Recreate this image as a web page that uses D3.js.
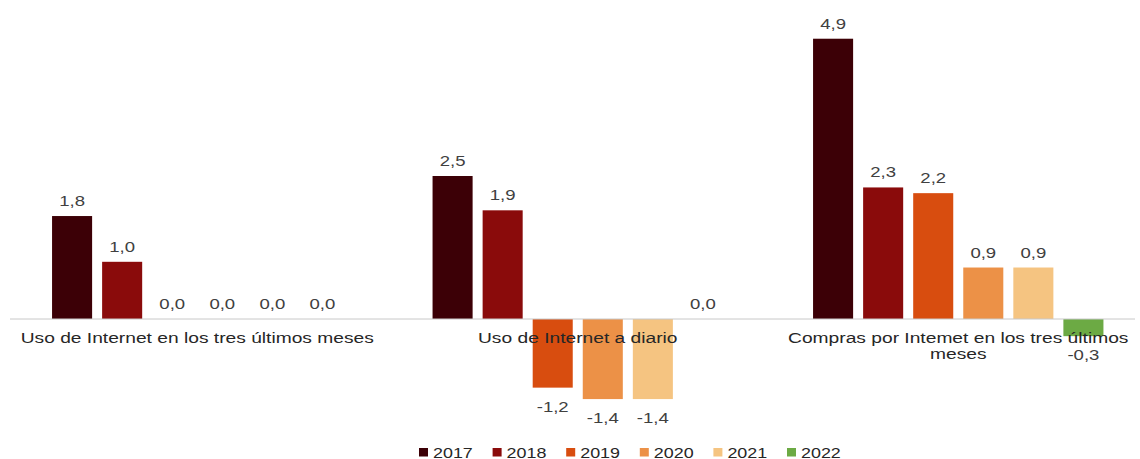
<!DOCTYPE html>
<html>
<head>
<meta charset="utf-8">
<script src="https://cdn.jsdelivr.net/npm/d3@7"></script>
<style>
  body { margin: 0; background: #fff; }
  svg { display: block; }
</style>
</head>
<body>
<svg id="chart" width="1140" height="459"></svg>
<script>
// --- Données ---
const categories = [
  ["Uso de Internet en los tres últimos meses"],
  ["Uso de Internet a diario"],
  ["Compras por Intemet en los tres últimos", "meses"]
];
const years = ["2017", "2018", "2019", "2020", "2021", "2022"];
const colors = ["#3c0006", "#8a0b0b", "#d84d0f", "#ec9147", "#f5c481", "#6caa44"];
const values = [
  [1.8, 1.0, 0.0, 0.0, 0.0, 0.0],
  [2.5, 1.9, -1.2, -1.4, -1.4, 0.0],
  [4.9, 2.3, 2.2, 0.9, 0.9, -0.3]
];

const fmt = v => v.toFixed(1).replace(".", ",");
const FONT = "Liberation Sans, Arial, sans-serif";
const STRETCH = 1.28; // le texte de l'original est étiré horizontalement

const svg = d3.select("#chart");

const x0 = d3.scaleBand().domain(d3.range(categories.length)).range([7, 1148.5]);
const x1 = d3.scaleBand().domain(years).range([0, x0.bandwidth()])
  .paddingInner(0.2).paddingOuter(0.9);
const y = d3.scaleLinear().domain([-2, 5.5]).range([433.4, 4.4]);

const color = d3.scaleOrdinal().domain(years).range(colors);

// --- Barres ---
const groups = svg.append("g")
  .selectAll("g")
  .data(values)
  .join("g")
  .attr("transform", (d, i) => `translate(${x0(i)},0)`);

groups.selectAll("rect")
  .data(d => d.map((v, j) => ({ year: years[j], value: v })))
  .join("rect")
  .attr("x", d => x1(d.year))
  .attr("width", x1.bandwidth())
  .attr("y", d => y(Math.max(0, d.value)))
  .attr("height", d => Math.abs(y(d.value) - y(0)))
  .attr("fill", d => color(d.year));

// --- Ligne zéro ---
svg.append("line")
  .attr("x1", 10).attr("x2", 1135)
  .attr("y1", y(0)).attr("y2", y(0))
  .attr("stroke", "#c8c8c8")
  .attr("stroke-width", 1);

// --- Étiquettes de valeurs ---
groups.selectAll("text.val")
  .data(d => d.map((v, j) => ({ year: years[j], value: v })))
  .join("text")
  .attr("class", "val")
  .attr("transform", d => {
    const tx = x1(d.year) + x1.bandwidth() / 2;
    const ty = d.value < 0 ? y(d.value) + 24 : y(d.value) - 10;
    return `translate(${tx},${ty}) scale(${STRETCH},1)`;
  })
  .attr("text-anchor", "middle")
  .attr("font-family", FONT)
  .attr("font-size", 14.5)
  .attr("fill", "#404040")
  .text(d => fmt(d.value));

// --- Catégories ---
svg.append("g")
  .selectAll("text")
  .data(categories)
  .join("text")
  .attr("transform", (d, i) => `translate(${x0(i) + x0.bandwidth() / 2},343) scale(1.24,1)`)
  .attr("text-anchor", "middle")
  .attr("font-family", FONT)
  .attr("font-size", 15.5)
  .attr("fill", "#262626")
  .selectAll("tspan")
  .data(d => d)
  .join("tspan")
  .attr("x", 0)
  .attr("dy", (d, i) => i === 0 ? 0 : 16)
  .text(d => d);

// --- Légende ---
const legend = svg.append("g")
  .selectAll("g")
  .data(years)
  .join("g")
  .attr("transform", (d, i) => `translate(${419 + i * 73.6},448)`);

legend.append("rect")
  .attr("width", 9).attr("height", 8.5)
  .attr("fill", d => color(d));

legend.append("text")
  .attr("transform", `translate(14,9.8) scale(${STRETCH},1)`)
  .attr("font-family", FONT)
  .attr("font-size", 14)
  .attr("fill", "#262626")
  .text(d => d);
</script>
</body>
</html>
